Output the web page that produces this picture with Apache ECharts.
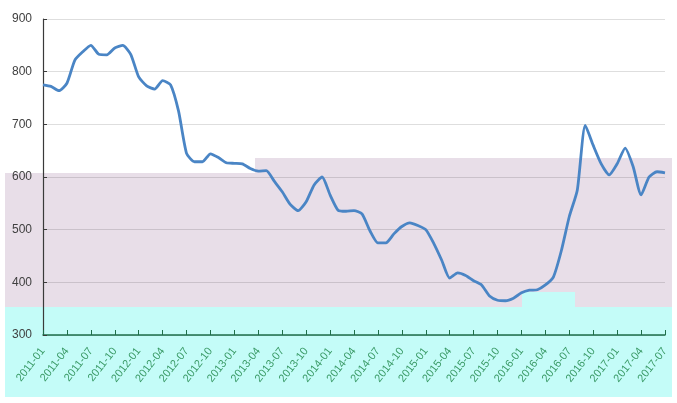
<!DOCTYPE html>
<html>
<head>
<meta charset="utf-8">
<title>price line</title>
<script src="https://cdn.jsdelivr.net/npm/echarts@6/dist/echarts.min.js"></script>
<style>
  html, body { margin: 0; padding: 0; background: #fff; }
  #main { width: 677px; height: 403px; }
</style>
</head>
<body>
<div id="main"></div>
<script>
// months 2011-01 .. 2017-07
var months = [];
for (var y = 2011; y <= 2017; y++) {
    for (var mo = 1; mo <= 12; mo++) {
        if (y === 2017 && mo > 7) break;
        months.push(y + '-' + (mo < 10 ? '0' + mo : mo));
    }
}

// values, one per month
var prices = [
    775, 772, 764, 778, 822, 838, 850, 833, 832, 845, 850, 833,   // 2011
    790, 773, 767, 783, 775, 725, 645, 629, 629, 644, 637, 627,   // 2012
    626, 625, 616, 611, 612, 592, 572, 548, 536, 553, 585, 600,   // 2013
    566, 537, 535, 536, 530, 498, 475, 475, 492, 506, 513, 508,   // 2014
    500, 474, 442, 408, 418, 413, 403, 395, 374, 366, 365, 370,   // 2015
    380, 385, 386, 395, 410, 460, 525, 575, 698, 660, 625, 604,   // 2016
    625, 655, 620, 566, 600, 610, 608                             // 2017
];

var yTicks = [300, 400, 500, 600, 700, 800, 900];

var myChart = echarts.init(document.getElementById('main'));

var option = {
    animation: false,
    backgroundColor: '#ffffff',
    // colour bands seen in the picture
    graphic: {
        elements: [
            { type: 'rect', z: -10, shape: { x: 5, y: 173, width: 667, height: 134 }, style: { fill: '#e8dee8' } },
            { type: 'rect', z: -10, shape: { x: 255, y: 158, width: 417, height: 15 }, style: { fill: '#e8dee8' } },
            { type: 'rect', z: -10, shape: { x: 5, y: 307, width: 667, height: 90 }, style: { fill: '#c4fcf8' } },
            { type: 'rect', z: -10, shape: { x: 522, y: 292, width: 53, height: 15 }, style: { fill: '#c4fcf8' } }
        ]
    },
    grid: {
        left: 43,
        right: 12,
        top: 19,
        bottom: 68,
        containLabel: false,
        outerBoundsMode: 'none'
    },
    xAxis: {
        type: 'category',
        boundaryGap: false,
        data: months,
        axisLine: { lineStyle: { color: '#1f6e4a', width: 1.5 } },
        axisTick: { inside: true, length: 5, interval: 2, lineStyle: { color: '#1f6e4a' } },
        axisLabel: {
            interval: 2,
            rotate: 52,
            margin: 14,
            fontSize: 11,
            color: '#3a9a66',
            fontFamily: 'Liberation Sans'
        },
        splitLine: { show: false }
    },
    yAxis: {
        type: 'value',
        min: yTicks[0],
        max: yTicks[yTicks.length - 1],
        interval: 100,
        axisLine: { show: true, lineStyle: { color: '#3a3a3a', width: 1.2 } },
        axisTick: { show: true, inside: true, length: 4, lineStyle: { color: '#3a3a3a' } },
        axisLabel: {
            margin: 11,
            fontSize: 12,
            color: function (v) { return v === 300 ? '#2aa08a' : '#404040'; },
            fontFamily: 'Liberation Sans'
        },
        splitLine: { lineStyle: { color: 'rgba(0,0,0,0.13)', width: 1.2 } }
    },
    series: [
        {
            name: 'price',
            type: 'line',
            data: prices,
            symbol: 'none',
            smooth: 0.2,
            lineStyle: { color: '#4a85c5', width: 2.8 }
        }
    ]
};

myChart.setOption(option);
</script>
</body>
</html>
